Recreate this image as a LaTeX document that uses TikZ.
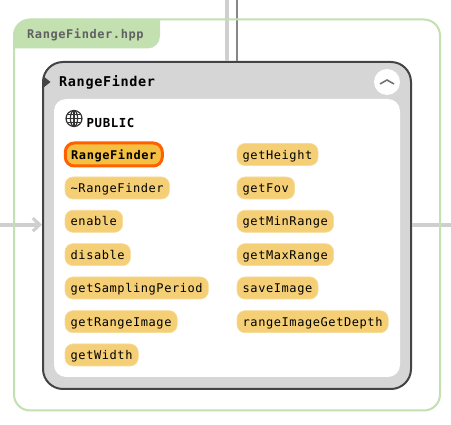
\documentclass[tikz,border=0pt]{standalone}
\usepackage{fontspec}
\setmonofont[LetterSpace=4.8]{DejaVu Sans Mono}
\usetikzlibrary{arrows.meta}
\definecolor{grn}{HTML}{C3E0B1}
\definecolor{edgeg}{HTML}{CFCFCF}
\definecolor{boxg}{HTML}{D6D6D6}
\definecolor{dark}{HTML}{444444}
\definecolor{pillc}{HTML}{F5CF76}
\definecolor{selfill}{HTML}{F5BF42}
\definecolor{selline}{HTML}{FF6000}
\tikzset{
  x=1pt,y=-1pt,
  pill/.style={draw=pillc!75!white,line width=.6pt,outer sep=0pt,fill=pillc,rounded corners=8pt,anchor=west,inner xsep=5.7pt,inner ysep=0pt,minimum height=22pt,
    text=black,font=\ttfamily\fontsize{12}{15}\selectfont,text height=9.2pt,text depth=0pt},
  selpill/.style={pill,draw=selline,line width=3pt,fill=selfill,font=\ttfamily\bfseries\fontsize{12}{15}\selectfont,inner xsep=5.2pt,minimum height=23pt,minimum width=97pt,rounded corners=9pt},
  edgelight/.style={draw=edgeg,line width=4pt},
  edgedark/.style={draw=black!47,line width=2pt},
}
\begin{document}
\begin{tikzpicture}
\useasboundingbox (0,0) rectangle (451,425);
\fill[white] (0,0) rectangle (451,425);
% class box (declared first so connectors can name it)
\node[draw=dark,line width=2pt,fill=boxg,rounded corners=20pt,minimum width=368pt,minimum height=327pt,inner sep=0pt,outer sep=0pt,anchor=north west] (cls) at (43,62) {};
% connectors
\coordinate (topA) at (227,0);
\coordinate (topB) at (237.3,0);
\coordinate (leftIn) at (0,224.7);
\coordinate (rightOut) at (451,224.7);
\draw[edgelight,shorten >=1pt] (topA) -- (topA |- cls.north);
\draw[edgedark,shorten >=1pt] (topB) -- (topB |- cls.north);
\draw[edgelight,shorten >=1pt,-{Straight Barb[length=7pt,width=13pt,line width=3pt]}] (leftIn) -- (cls.west |- leftIn);
\draw[edgelight,shorten >=1pt] (rightOut) -- (cls.east |- rightOut);
% file frame
\draw[grn,line width=2pt,rounded corners=16pt] (14,19.5) rectangle (440,410.5);
\fill[grn] (13,48.5) -- (13,36) arc[start angle=180,end angle=270,x radius=17pt,y radius=-17pt] -- (160,19) -- (160,36) arc[start angle=0,end angle=90,x radius=12.5pt,y radius=-12.5pt] -- cycle;
\node[anchor=west,inner sep=0pt,text=black!62,font=\ttfamily\bfseries\fontsize{12}{15}\selectfont] (file) at (27,34.8) {RangeFinder.hpp};
% class contents
\fill[white,rounded corners=12pt] (54,99) rectangle (400,377);
\fill[dark] (43,76) -- (50.5,82) -- (43,88) -- cycle;
\node[anchor=west,inner sep=0pt,text=black,font=\ttfamily\bfseries\fontsize{13.5}{17}\selectfont] (title) at (59,82) {RangeFinder};
\node[circle,fill=white,minimum size=26pt,inner sep=0pt] (btn) at (387,82) {};
\draw[black!55,line width=1.6pt] (380,84) -- (387,80) -- (394,84);
% globe
\begin{scope}[black!80,line width=1.2pt]
\draw (74,118.5) circle[radius=8pt];
\draw (74,118.5) ellipse[x radius=3.6pt,y radius=8pt];
\draw (66,118.5) -- (82,118.5);
\draw (67.3,114.5) -- (80.7,114.5);
\draw (67.3,122.5) -- (80.7,122.5);
\draw (74,110.5) -- (74,126.5);
\end{scope}
\node[anchor=west,inner sep=0pt,text=black,font=\ttfamily\bfseries\fontsize{12.4}{15}\selectfont] (pub) at (86.5,123) {PUBLIC};
% members
\node[selpill] (m1) at (65.3,154.5) {RangeFinder};
\node[pill] (m2) at (65,188) {\textasciitilde RangeFinder};
\node[pill] (m3) at (65,221.3) {enable};
\node[pill] (m4) at (65,254.7) {disable};
\node[pill] (m5) at (65,288) {getSamplingPeriod};
\node[pill] (m6) at (65,321.7) {getRangeImage};
\node[pill] (m7) at (65,355) {getWidth};
\node[pill] (n1) at (237,154.5) {getHeight};
\node[pill] (n2) at (237,188) {getFov};
\node[pill] (n3) at (237,221.3) {getMinRange};
\node[pill] (n4) at (237,254.7) {getMaxRange};
\node[pill] (n5) at (237,288) {saveImage};
\node[pill] (n6) at (237,321.7) {rangeImageGetDepth};
\end{tikzpicture}
\end{document}
